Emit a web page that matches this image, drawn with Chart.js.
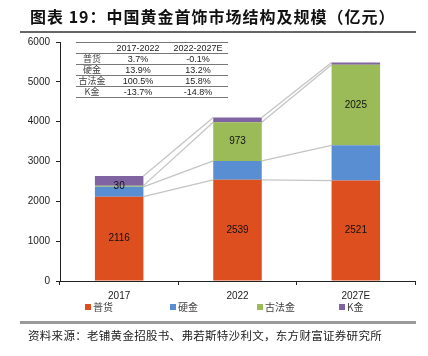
<!DOCTYPE html>
<html><head><meta charset="utf-8">
<script src="https://cdn.jsdelivr.net/npm/chart.js@4"></script>
<style>
html,body{margin:0;padding:0;background:#fff;}
#wrap{position:relative;width:428px;height:356px;overflow:hidden;font-family:"Noto Sans CJK SC","Noto Sans",sans-serif;}
#c{position:absolute;left:0;top:0;}
#title{position:absolute;left:30px;top:4px;font-size:16px;font-weight:bold;letter-spacing:1px;color:#111;white-space:nowrap;}
#tline{position:absolute;left:20px;top:31px;width:396px;height:1.5px;background:#666;}
#sline{position:absolute;left:20px;top:321px;width:396px;height:3px;background:#9a9a9a;}
#src{position:absolute;left:28px;top:327px;font-size:11.5px;color:#222;white-space:nowrap;letter-spacing:0.3px;}
#tbl{position:absolute;left:76px;top:42px;border-collapse:collapse;font-size:9px;color:#222;}
#tbl td{border-top:1px solid #777;height:10px;line-height:10px;padding:0;text-align:center;font-family:"Liberation Sans",Arial,sans-serif;}
#tbl tr:last-child td{border-bottom:1px solid #777;}
#tbl td.n{font-family:"Noto Sans CJK SC",sans-serif;color:#444;}
</style></head>
<body>
<div id="wrap">
<canvas id="c" width="428" height="356"></canvas>
<div id="title">图表 19：中国黄金首饰市场结构及规模（亿元）</div>
<div id="tline"></div>
<table id="tbl"></table>
<div id="sline"></div>
<div id="src">资料来源：老铺黄金招股书、弗若斯特沙利文，东方财富证券研究所</div>
</div>
<script>
// ---- data ----
const categories = ['2017', '2022', '2027E'];
const seriesNames = ['普货', '硬金', '古法金', 'K金'];
const puhuo   = [2116, 2539, 2521];
const yingjin = [248, 476, 885];
const gufajin = [30, 973, 2025];
const kjin    = [240, 115, 52];
const labeledSeries = ['普货', '古法金'];
const yTicks = [0, 1000, 2000, 3000, 4000, 5000, 6000];
const tableHeader = ['', '2017-2022', '2022-2027E'];
const cagr1 = ['3.7%', '13.9%', '100.5%', '-13.7%'];
const cagr2 = ['-0.1%', '13.2%', '15.8%', '-14.8%'];
const colors = ['#DD4F1E', '#5A8ED3', '#9BBB59', '#8064A2'];

// ---- table ----
const tbl = document.getElementById('tbl');
const colW = [32, 60, 60];
let html = '<tr>' + tableHeader.map((h,i)=>`<td style="width:${colW[i]}px">${h}</td>`).join('') + '</tr>';
seriesNames.forEach((n,i)=>{
  html += `<tr><td class="n">${n}</td><td>${cagr1[i]}</td><td>${cagr2[i]}</td></tr>`;
});
tbl.innerHTML = html;
tbl.style.width = '152px';

const allValues = [puhuo, yingjin, gufajin, kjin];

const seriesLines = {
  id: 'seriesLines',
  beforeDatasetsDraw(chart) {
    const ctx = chart.ctx;
    ctx.save();
    ctx.strokeStyle = '#c4c4c4';
    ctx.lineWidth = 1.3;
    chart.data.datasets.forEach((ds, i) => {
      const meta = chart.getDatasetMeta(i);
      for (let j = 0; j < meta.data.length - 1; j++) {
        const a = meta.data[j], b = meta.data[j+1];
        ctx.beginPath();
        ctx.moveTo(a.x + a.width/2, a.y);
        ctx.lineTo(b.x - b.width/2, b.y);
        ctx.stroke();
      }
    });
    ctx.restore();
  },
  afterDatasetsDraw(chart) {
    const ctx = chart.ctx;
    ctx.save();
    ctx.font = '10px "Liberation Sans", Arial, sans-serif';
    ctx.fillStyle = '#111';
    ctx.textAlign = 'center';
    ctx.textBaseline = 'middle';
    chart.data.datasets.forEach((ds, i) => {
      if (!labeledSeries.includes(ds.label)) return;
      const meta = chart.getDatasetMeta(i);
      meta.data.forEach((bar, j) => {
        ctx.fillText(String(ds.data[j]), bar.x, (bar.y + bar.base) / 2);
      });
    });
    ctx.restore();
  },
  afterDraw(chart) {
    // legend
    const ctx = chart.ctx;
    ctx.save();
    const xs = [85, 170, 257, 339];
    const y = 307;
    ctx.font = '10px "Noto Sans CJK SC", sans-serif';
    ctx.textBaseline = 'middle';
    chart.data.datasets.forEach((ds, i) => {
      ctx.fillStyle = ds.backgroundColor;
      ctx.fillRect(xs[i], y - 3, 6, 6);
      ctx.fillStyle = '#444';
      ctx.fillText(ds.label, xs[i] + 8, y);
    });
    ctx.restore();
  }
};

new Chart(document.getElementById('c'), {
  type: 'bar',
  data: {
    labels: categories,
    datasets: seriesNames.map((n, i) => ({
      label: n,
      data: allValues[i],
      backgroundColor: colors[i],
      borderWidth: 0,
      barPercentage: 1,
      categoryPercentage: 0.41
    }))
  },
  options: {
    responsive: false,
    animation: false,
    layout: { padding: { left: 8, right: 13, top: 42, bottom: 0 } },
    plugins: { legend: { display: false }, tooltip: { enabled: false }, title: { display: false } },
    scales: {
      x: {
        stacked: true,
        afterFit(s) { s.height = 75; },
        grid: { display: true, drawOnChartArea: false, drawTicks: true, tickLength: 4, color: '#222', offset: true },
        border: { display: true, color: '#222', width: 1 },
        ticks: { color: '#222', font: { size: 10, family: '"Liberation Sans", Arial, sans-serif' }, padding: 5 }
      },
      y: {
        stacked: true,
        min: 0, max: 6000,
        afterFit(s) { s.width = 52; },
        afterBuildTicks(s) { s.ticks = yTicks.map(v => ({ value: v })); },
        grid: { display: true, drawOnChartArea: false, drawTicks: true, tickLength: 4, color: '#222' },
        border: { display: true, color: '#222', width: 1 },
        ticks: { color: '#222', font: { size: 10, family: '"Liberation Sans", Arial, sans-serif' }, padding: 6, callback: v => String(v) }
      }
    }
  },
  plugins: [seriesLines]
});
</script>
</body></html>
